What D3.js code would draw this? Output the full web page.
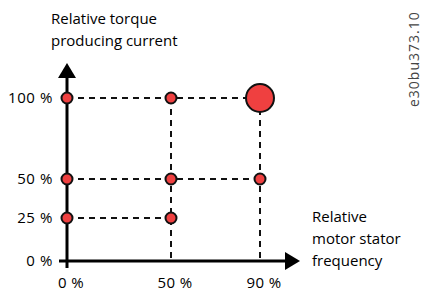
<!DOCTYPE html>
<html>
<head>
<meta charset="utf-8">
<script src="https://cdn.jsdelivr.net/npm/d3@7"></script>
<style>
  body { margin: 0; background: #fff; }
  text { font-family: "Open Sans", "Noto Sans", sans-serif; fill: #000; }
</style>
</head>
<body>
<div id="chart"></div>
<script>
const width = 422
const height = 291
const red = '#ef4040'

// axis categories (schematic, not evenly spaced)
const xTicks = [0, 50, 90]
const yTicks = [0, 25, 50, 100]
const xLabels = ['0 %', '50 %', '90 %']
const yLabels = ['0 %', '25 %', '50 %', '100 %']

// operating points [frequency %, current %]
const pointsX = [0, 50, 90, 0, 50, 90, 0, 50]
const pointsY = [100, 100, 100, 50, 50, 50, 25, 25]
const bigPoint = [90, 100]

// dashed guide lines: [x1, y1, x2, y2] in data units
const guides = [
  [0, 100, 90, 100],
  [0, 50, 90, 50],
  [0, 25, 50, 25],
  [50, 100, 50, 0],
  [90, 100, 90, 0]
]

const x = d3.scaleLinear().domain(xTicks).range([67, 171, 260])
const y = d3.scaleLinear().domain(yTicks).range([261, 218, 179, 98])

const svg = d3.select('#chart')
  .append('svg')
  .attr('width', width)
  .attr('height', height)

svg.selectAll('.guide')
  .data(guides)
  .enter()
  .append('line')
  .attr('x1', d => x(d[0]))
  .attr('y1', d => y(d[1]))
  .attr('x2', d => x(d[2]))
  .attr('y2', d => y(d[3]))
  .attr('stroke', '#111')
  .attr('stroke-width', 2)
  .attr('stroke-dasharray', '6,5')

// axes
svg.append('line')
  .attr('x1', x(0)).attr('y1', y(0) + 7)
  .attr('x2', x(0)).attr('y2', 76)
  .attr('stroke', '#000').attr('stroke-width', 3)
svg.append('line')
  .attr('x1', x(0) - 8).attr('y1', y(0))
  .attr('x2', 288).attr('y2', y(0))
  .attr('stroke', '#000').attr('stroke-width', 3)
svg.append('path')
  .attr('d', `M${x(0)},63 L${x(0) + 9},78 L${x(0) - 9},78 Z`)
  .attr('fill', '#000')
svg.append('path')
  .attr('d', `M300,${y(0)} L285,${y(0) - 9} L285,${y(0) + 9} Z`)
  .attr('fill', '#000')

// tick labels
svg.selectAll('.ylab')
  .data(yTicks)
  .enter()
  .append('text')
  .attr('x', 53)
  .attr('y', d => y(d))
  .attr('dy', '0.35em')
  .attr('text-anchor', 'end')
  .style('font-size', '15px')
  .style('letter-spacing', '0.6px')
  .text((d, i) => yLabels[i])

svg.selectAll('.xlab')
  .data(xTicks)
  .enter()
  .append('text')
  .attr('x', d => x(d) + 4)
  .attr('y', 288)
  .attr('text-anchor', 'middle')
  .style('font-size', '15px')
  .style('letter-spacing', '0.4px')
  .text((d, i) => xLabels[i])

// points
svg.selectAll('.pt')
  .data(pointsX.map((v, i) => [v, pointsY[i]]))
  .enter()
  .append('circle')
  .attr('cx', d => x(d[0]))
  .attr('cy', d => y(d[1]))
  .attr('r', d => (d[0] === bigPoint[0] && d[1] === bigPoint[1]) ? 14 : 5.5)
  .attr('fill', red)
  .attr('stroke', '#111')
  .attr('stroke-width', 2)

// axis titles
const yTitle = svg.append('text').attr('x', 51).attr('y', 24).style('font-size', '15px')
yTitle.append('tspan').attr('x', 51).text('Relative torque')
yTitle.append('tspan').attr('x', 51).attr('dy', 22).text('producing current')

const xTitle = svg.append('text').attr('x', 312).attr('y', 222).style('font-size', '15px')
xTitle.append('tspan').attr('x', 312).text('Relative')
xTitle.append('tspan').attr('x', 312).attr('dy', 22).text('motor stator')
xTitle.append('tspan').attr('x', 312).attr('dy', 22).text('frequency')

svg.append('text')
  .attr('transform', 'translate(419,107) rotate(-90)')
  .style('font-size', '14px')
  .style('letter-spacing', '1px')
  .style('fill', '#444')
  .text('e30bu373.10')
</script>
</body>
</html>
